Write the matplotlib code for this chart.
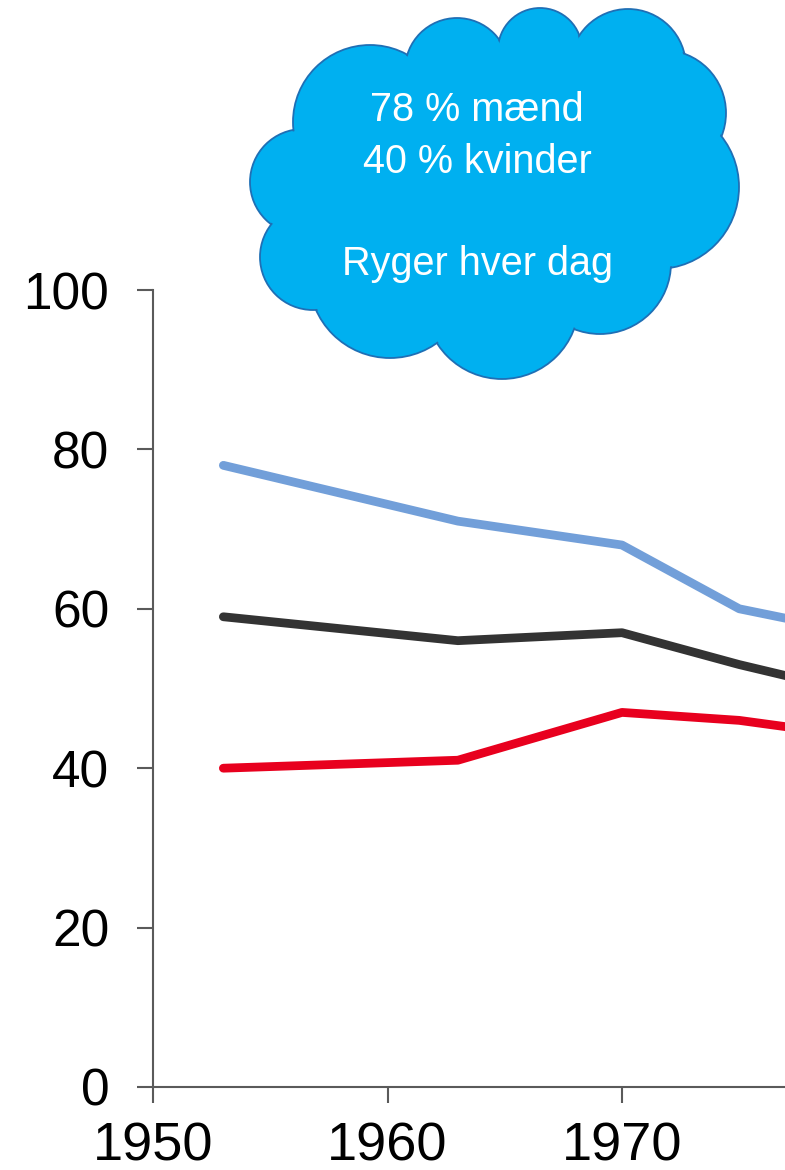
import matplotlib

matplotlib.use("Agg")

import matplotlib.pyplot as plt
from matplotlib.patches import Circle, Polygon

# data (share of daily smokers, %)
years = [1953, 1963, 1970, 1975, 1980]
men = [78, 71, 68, 60, 57]
total = [59, 56, 57, 53, 49.5]
women = [40, 41, 47, 46, 44]

y_ticks = [0, 20, 40, 60, 80, 100]
x_ticks = [1950, 1960, 1970]
x_range = (1950, 1990)

cloud_lines = ["78 % mænd", "40 % kvinder", "Ryger hver dag"]

W, H = 785, 1170
DPI = 100

BLUE = "#729FD9"
DARK = "#333333"
RED = "#E8001E"
SPINE = "#5A5A5A"
CLOUD_FILL = "#00B0F0"
CLOUD_EDGE = "#1F6FB5"
LW = 6.3

# cloud lobes in pixel coords (x, y from top, radius)
LOBES = [
    (303, 182, 53),
    (370, 122, 77),
    (457, 70, 52),
    (540, 50, 42),
    (628, 67, 58),
    (663, 113, 63),
    (657, 187, 82),
    (600, 263, 71),
    (502, 302, 77),
    (390, 277, 81),
    (313, 257, 53),
]


def draw_chart(fig):
    px_per_year = 23.45
    left = 153 / W
    bottom = (H - 1087) / H
    height = (1087 - 290) / H
    width = (x_range[1] - x_range[0]) * px_per_year / W
    ax = fig.add_axes([left, bottom, width, height])

    style = dict(linewidth=LW, solid_capstyle="round", solid_joinstyle="round")
    ax.plot(years, men, color=BLUE, **style)
    ax.plot(years, total, color=DARK, **style)
    ax.plot(years, women, color=RED, **style)

    ax.set_xlim(*x_range)
    ax.set_ylim(0, 100)
    ax.set_xticks(x_ticks)
    ax.set_yticks(y_ticks)
    ax.set_yticklabels([str(v) for v in y_ticks], fontsize=37, family=["Liberation Sans"])
    ax.set_xticklabels([str(v) for v in x_ticks], fontsize=39, family=["Liberation Sans"])

    for side in ("top", "right"):
        ax.spines[side].set_visible(False)
    for side in ("left", "bottom"):
        ax.spines[side].set_color(SPINE)
        ax.spines[side].set_linewidth(1.5)
    ax.tick_params(axis="both", direction="out", length=11.5, width=1.5, color=SPINE)
    ax.tick_params(axis="y", pad=20)
    ax.tick_params(axis="x", pad=13)
    ax.set_facecolor("none")


def draw_cloud(fig):
    ax = fig.add_axes([0, 0, 1, 1], zorder=5)
    ax.set_xlim(0, W)
    ax.set_ylim(H, 0)
    ax.axis("off")
    ax.set_facecolor("none")

    for x, y, r in LOBES:
        ax.add_patch(Circle((x, y), r, facecolor=CLOUD_FILL, edgecolor=CLOUD_EDGE, linewidth=1.3, zorder=1))
    for x, y, r in LOBES:
        ax.add_patch(Circle((x, y), r - 1.5, facecolor=CLOUD_FILL, edgecolor="none", zorder=2))
    ax.add_patch(Polygon([(x, y) for x, y, _ in LOBES], closed=True,
                         facecolor=CLOUD_FILL, edgecolor="none", zorder=2))

    baselines = [121, 173, 275]
    for text, yb in zip(cloud_lines, baselines):
        ax.text(477, yb, text, ha="center", va="baseline", color="white",
                fontsize=28.5, family=["Liberation Sans"], zorder=3)


def main():
    plt.rcParams.update({"font.family": ["Liberation Sans", "DejaVu Sans"]})
    fig = plt.figure(figsize=(W / DPI, H / DPI), dpi=DPI)
    fig.patch.set_facecolor("white")
    draw_chart(fig)
    draw_cloud(fig)
    fig.savefig("out.png", dpi=DPI, facecolor="white")
    plt.close(fig)


if __name__ == "__main__":
    main()
